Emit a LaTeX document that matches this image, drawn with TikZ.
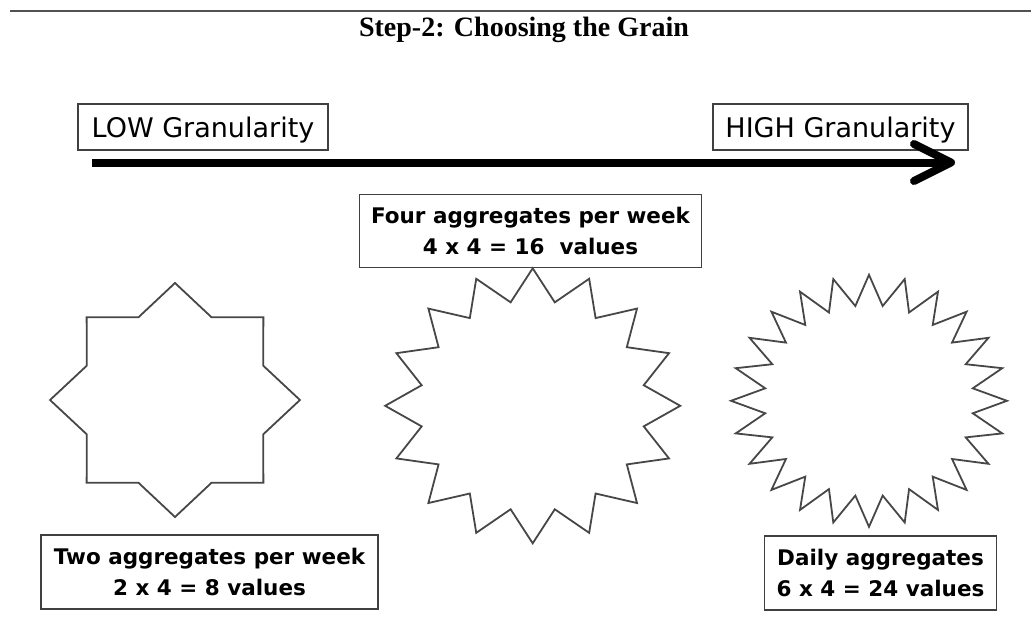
\documentclass[tikz,border=0pt]{standalone}
\usepackage{fontspec}
\usetikzlibrary{arrows.meta}
\newfontfamily\grainsans{DejaVu Sans}
\newfontfamily\grainserif{Liberation Serif}

\begin{document}
\begin{tikzpicture}[x=1pt,y=-1pt,
    scalebox/.style={draw=black!75,line width=1.2pt,inner sep=0pt,align=center},
    endlabel/.style={scalebox,font=\grainsans\fontsize{27}{32}\selectfont,
      text height=21pt,text depth=0pt,minimum height=46pt},
    grainlabel/.style={scalebox,font=\grainsans\bfseries\fontsize{21.5}{31}\selectfont,
      minimum height=74pt},
    starline/.style={draw=black!72,line width=1.8pt,line join=miter}]
  \useasboundingbox (0,0) rectangle (1031,624);

  \draw[black!68,line width=2.5pt] (10,11) -- (1031,11);
  \node[anchor=base,font=\grainserif\bfseries\fontsize{28}{32}\selectfont] (title)
    at (524,36.7) {Step-2: Choosing the Grain};

  \node[endlabel,minimum width=250pt] (low) at (203,127) {LOW Granularity};
  \node[endlabel,minimum width=255pt] (high) at (840.5,127) {HIGH Granularity};

  \coordinate (shaftstart) at (92,162.5);
  \coordinate (shaftend) at (955,162.5);
  \draw[line width=8pt,-{Straight Barb[length=37pt,width=37pt,round]}]
    (shaftstart) -- (shaftend);

  \begin{scope}[shift={(175,400)},xscale=1.068]
    \draw[starline] (90:117) \foreach \k in {1,...,8}
      {-- ({90+(\k-0.5)*45}:89.5) -- ({90+\k*45}:117)} -- cycle;
  \end{scope}
  \begin{scope}[shift={(532.7,405.8)},xscale=1.073]
    \draw[starline] (90:137.5) \foreach \k in {1,...,16}
      {-- ({90+(\k-0.5)*22.5}:105.5) -- ({90+\k*22.5}:137.5)} -- cycle;
  \end{scope}
  \begin{scope}[shift={(869,400.8)},xscale=1.095]
    \draw[starline] (90:126) \foreach \k in {1,...,24}
      {-- ({90+(\k-0.5)*15}:95.6) -- ({90+\k*15}:126)} -- cycle;
  \end{scope}

  \node[grainlabel,minimum width=342pt,minimum height=73.4pt] (four)
    at (530.5,231) {Four aggregates per week\\4 x 4 = 16~~values};
  \node[grainlabel,minimum width=337pt] (two)
    at (209.5,572) {Two aggregates per week\\2 x 4 = 8 values};
  \node[grainlabel,minimum width=232pt] (daily)
    at (880.5,573) {Daily aggregates\\6 x 4 = 24 values};
\end{tikzpicture}
\end{document}
